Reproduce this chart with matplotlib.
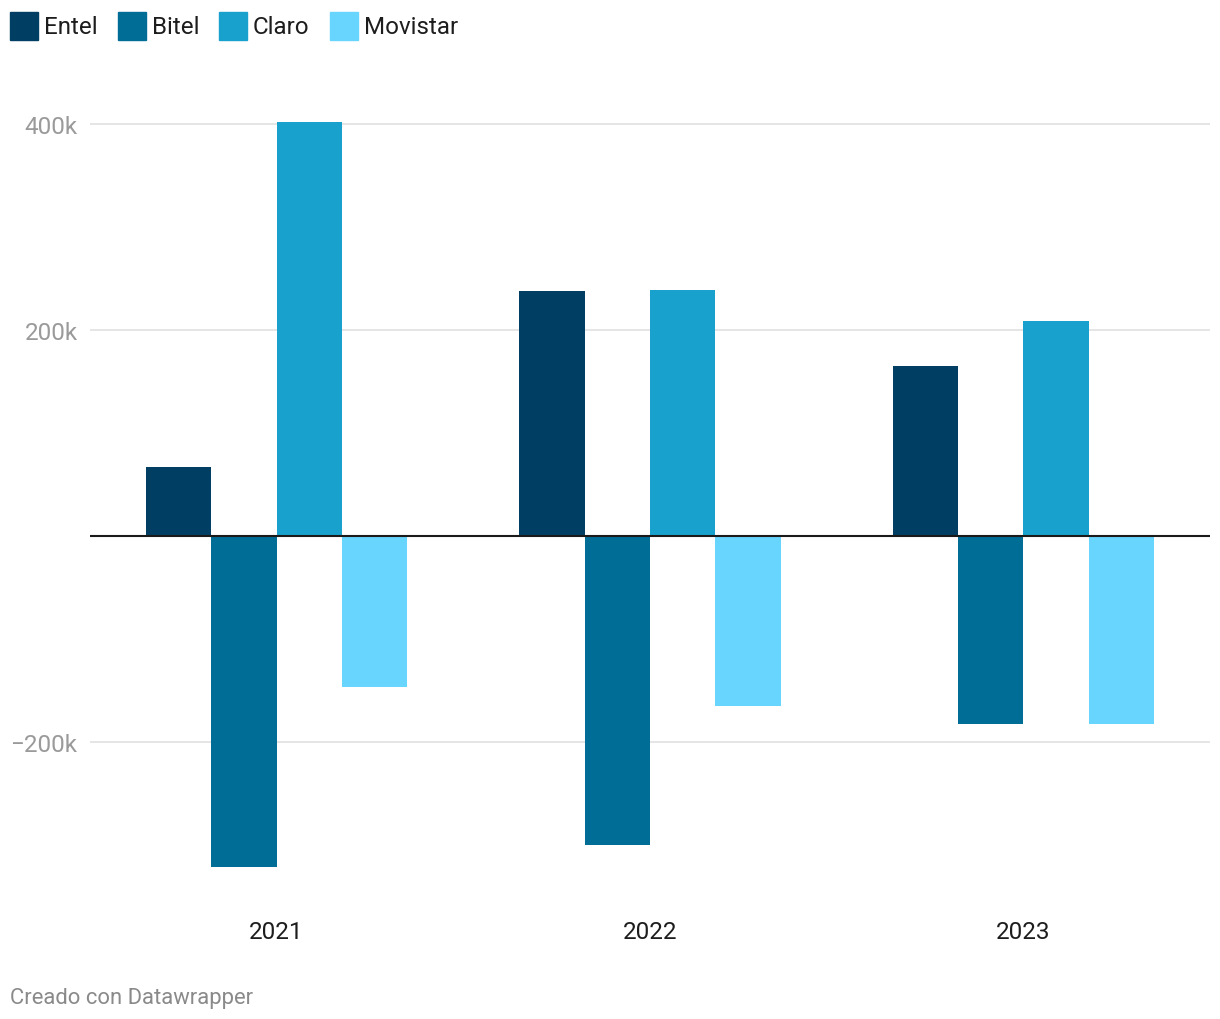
import matplotlib
matplotlib.use("Agg")
import matplotlib.pyplot as plt
import numpy as np
from matplotlib.patches import Rectangle

plt.rcParams['font.family'] = ['Roboto', 'DejaVu Sans']

years = ["2021", "2022", "2023"]
series = ["Entel", "Bitel", "Claro", "Movistar"]
entel = [67000, 238000, 165000]
bitel = [-321000, -300000, -183000]
claro = [402000, 239000, 209000]
movistar = [-147000, -165000, -183000]
colors = ["#003f63", "#006d97", "#18a1cd", "#68d5fe"]
yticks = [-200000, 200000, 400000]
yticklabels = ["\u2212200k", "200k", "400k"]

W, H = 1220, 1020
fig = plt.figure(figsize=(W/100, H/100), dpi=100)
ax = fig.add_axes([90/W, 1 - 881/H, 1120/W, (881-116)/H])

values = [entel, bitel, claro, movistar]
x = np.arange(len(years))
bw = 0.175
for i, (name, vals, c) in enumerate(zip(series, values, colors)):
    ax.bar(x + (i - 1.5) * bw, vals, width=bw, color=c, zorder=3, linewidth=0)

ax.set_xlim(-0.5, 2.5)
ax.set_ylim(-334000, 408700)
ax.axhline(0, color="#1a1a1a", lw=1.5, zorder=4)
for t in yticks:
    ax.axhline(t, color="#e3e3e3", lw=1.3, zorder=1)
ax.set_yticks(yticks)
ax.set_yticklabels(yticklabels, color="#9a9a9a", fontsize=17.5)
ax.tick_params(axis='y', length=0, pad=9)
ax.set_xticks(x)
ax.set_xticklabels(years, fontsize=17.5, color="#1d1d1d")
ax.tick_params(axis='x', length=0, pad=29)
for s in ax.spines.values():
    s.set_visible(False)

# legend
lx = 10
for name, c in zip(series, colors):
    fig.patches.append(Rectangle((lx/W, 1 - 41/H), 28/W, 28/H, transform=fig.transFigure,
                                 color=c, figure=fig))
    t = fig.text((lx + 34)/W, 1 - 28/H, name, fontsize=17.4, color="#1d1d1d", va="center", ha="left")
    fig.canvas.draw()
    bb = t.get_window_extent()
    lx = bb.x1 + 20

fig.text(10/W, 1 - 999/H, "Creado con Datawrapper", fontsize=15.8, color="#8a8a8a", va="center", ha="left")

fig.savefig("out.png", dpi=100, facecolor="white")
